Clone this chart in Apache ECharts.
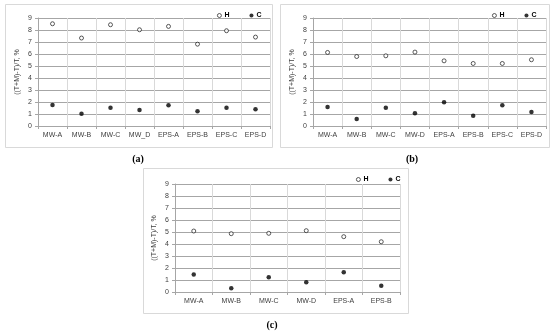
<!DOCTYPE html>
<html><head><meta charset="utf-8">
<script src="https://cdn.jsdelivr.net/npm/echarts@6/dist/echarts.min.js"></script>
<style>html,body{margin:0;padding:0;background:#fff}#c{width:550px;height:334px}</style>
</head><body><div id="c"></div>
<script>
var catsA = ['MW-A','MW-B','MW-C','MW_D','EPS-A','EPS-B','EPS-C','EPS-D'];
var hA = [8.52,7.33,8.44,8.02,8.30,6.82,7.94,7.41];
var cA = [1.75,1.03,1.53,1.34,1.73,1.23,1.53,1.39];
var catsB = ['MW-A','MW-B','MW-C','MW-D','EPS-A','EPS-B','EPS-C','EPS-D'];
var hB = [6.13,5.79,5.85,6.16,5.43,5.21,5.21,5.52];
var cB = [1.59,0.58,1.53,1.06,1.98,0.86,1.73,1.17];
var catsC = ['MW-A','MW-B','MW-C','MW-D','EPS-A','EPS-B'];
var hC = [5.08,4.86,4.89,5.11,4.61,4.19];
var cC = [1.45,0.31,1.23,0.81,1.65,0.53];
var yTicks = [0,1,2,3,4,5,6,7,8,9];
var yTitle = '((T+M)-T)/T, %';
var panelLabels = ['(a)','(b)','(c)'];

var font = 'Liberation Sans';
var grids = [
  {left:38, top:18, width:232, height:108},
  {left:313, top:18, width:233, height:108},
  {left:175, top:184, width:225, height:108}
];
var cats = [catsA, catsB, catsC];
var hs = [hA, hB, hC];
var cs = [cA, cB, cC];
var xAxes = [], yAxes = [], series = [], legends = [];
var legendPos = [{left:212, top:7},{left:487, top:7},{left:351, top:171}];
for (var i=0;i<3;i++){
  xAxes.push({type:'category', gridIndex:i, data:cats[i], boundaryGap:true,
    axisLine:{lineStyle:{color:'#a6a6a6'}},
    axisTick:{show:true, length:3, lineStyle:{color:'#a6a6a6'}},
    axisLabel:{fontSize:7, color:'#404040', fontFamily:font, margin:6},
    splitLine:{show:true, lineStyle:{color:'#d9d9d9', width:1}}});
  yAxes.push({type:'value', gridIndex:i, min:yTicks[0], max:yTicks[yTicks.length-1], interval:1,
    name:yTitle, nameLocation:'middle', nameGap:17, nameRotate:90,
    nameTextStyle:{fontSize:7, color:'#404040', fontFamily:font},
    axisLine:{show:true, lineStyle:{color:'#a6a6a6'}},
    axisTick:{show:true, length:3, lineStyle:{color:'#a6a6a6'}},
    axisLabel:{fontSize:7, color:'#404040', fontFamily:font, margin:6},
    splitLine:{show:true, lineStyle:{color:'#a6a6a6', width:1}}});
  series.push({name:'H', type:'scatter', xAxisIndex:i, yAxisIndex:i, data:hs[i],
    symbol:'circle', symbolSize:4, itemStyle:{color:'#fff', borderColor:'#000', borderWidth:0.8}});
  series.push({name:'C', type:'scatter', xAxisIndex:i, yAxisIndex:i, data:cs[i],
    symbol:'circle', symbolSize:4.5, itemStyle:{color:'#000'}});
  legends.push({left:legendPos[i].left, top:legendPos[i].top,
    data:[{name:'H', icon:'circle', itemStyle:{color:'#fff', borderColor:'#000', borderWidth:0.8}},
          {name:'C', icon:'circle', itemStyle:{color:'#000', borderWidth:0}}],
    itemWidth:4, itemHeight:4, itemGap:20,
    textStyle:{fontSize:7, fontWeight:'bold', color:'#000', fontFamily:font, padding:[0,0,0,-2]}});
}
var boxes = [
  {x:5,y:4,w:267,h:143},{x:280,y:4,w:269,h:143},{x:143,y:168,w:265,h:145}
];
var graphic = [];
boxes.forEach(function(b){
  graphic.push({type:'rect', shape:{x:b.x+0.5,y:b.y+0.5,width:b.w,height:b.h}, style:{fill:'none', stroke:'#d9d9d9', lineWidth:1}, z:-1});
});
var labPos = [[138,159],[412,159],[272,325]];
for (var j=0;j<3;j++){
  graphic.push({type:'text', x:labPos[j][0], y:labPos[j][1], style:{text:panelLabels[j], font:'bold 10px "Liberation Serif"', fill:'#000', align:'center', verticalAlign:'middle'}});
}
var chart = echarts.init(document.getElementById('c'), null, {renderer:'canvas'});
chart.setOption({
  animation:false,
  backgroundColor:'#fff',
  grid:grids, xAxis:xAxes, yAxis:yAxes, series:series, legend:legends, graphic:graphic
});
</script></body></html>
